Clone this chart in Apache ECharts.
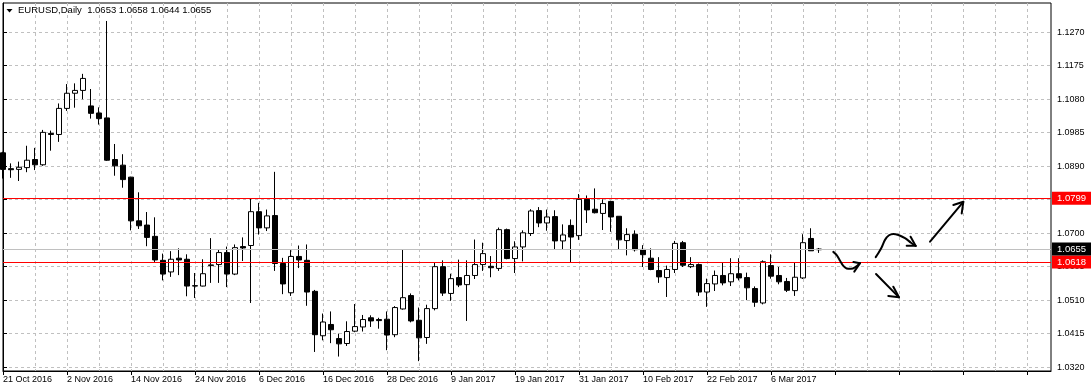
<!DOCTYPE html>
<html><head><meta charset="utf-8">
<script src="https://cdn.jsdelivr.net/npm/echarts@6/dist/echarts.min.js"></script>
<style>html,body{margin:0;padding:0;background:#fff}#c{width:1091px;height:392px}</style>
</head><body><div id="c"></div>
<script>
const symbol = 'EURUSD';
const timeframe = 'Daily';
const dates = [
'21 Oct 2016','24 Oct 2016','25 Oct 2016','26 Oct 2016','27 Oct 2016','28 Oct 2016','31 Oct 2016','1 Nov 2016','2 Nov 2016','3 Nov 2016',
'4 Nov 2016','7 Nov 2016','8 Nov 2016','9 Nov 2016','10 Nov 2016','11 Nov 2016','14 Nov 2016','15 Nov 2016','16 Nov 2016','17 Nov 2016',
'18 Nov 2016','21 Nov 2016','22 Nov 2016','23 Nov 2016','24 Nov 2016','25 Nov 2016','28 Nov 2016','29 Nov 2016','30 Nov 2016','1 Dec 2016',
'2 Dec 2016','5 Dec 2016','6 Dec 2016','7 Dec 2016','8 Dec 2016','9 Dec 2016','12 Dec 2016','13 Dec 2016','14 Dec 2016','15 Dec 2016',
'16 Dec 2016','19 Dec 2016','20 Dec 2016','21 Dec 2016','22 Dec 2016','23 Dec 2016','26 Dec 2016','27 Dec 2016','28 Dec 2016','29 Dec 2016',
'30 Dec 2016','2 Jan 2017','3 Jan 2017','4 Jan 2017','5 Jan 2017','6 Jan 2017','9 Jan 2017','10 Jan 2017','11 Jan 2017','12 Jan 2017',
'13 Jan 2017','16 Jan 2017','17 Jan 2017','18 Jan 2017','19 Jan 2017','20 Jan 2017','23 Jan 2017','24 Jan 2017','25 Jan 2017','26 Jan 2017',
'27 Jan 2017','30 Jan 2017','31 Jan 2017','1 Feb 2017','2 Feb 2017','3 Feb 2017','6 Feb 2017','7 Feb 2017','8 Feb 2017','9 Feb 2017',
'10 Feb 2017','13 Feb 2017','14 Feb 2017','15 Feb 2017','16 Feb 2017','17 Feb 2017','20 Feb 2017','21 Feb 2017','22 Feb 2017','23 Feb 2017',
'24 Feb 2017','27 Feb 2017','28 Feb 2017','1 Mar 2017','2 Mar 2017','3 Mar 2017','6 Mar 2017','7 Mar 2017','8 Mar 2017','9 Mar 2017',
'10 Mar 2017','13 Mar 2017','14 Mar 2017'];
const opens = [
1.0928,1.0883,1.0881,1.0886,1.0909,1.0894,1.0983,1.0980,1.1054,1.1097,
1.1105,1.1061,1.1041,1.1027,1.0909,1.0893,1.0859,1.0735,1.0723,1.0691,
1.0623,1.0590,1.0629,1.0626,1.0551,1.0550,1.0608,1.0611,1.0645,1.0584,
1.0662,1.0665,1.0761,1.0715,1.0750,1.0614,1.0531,1.0634,1.0623,1.0535,
1.0409,1.0441,1.0401,1.0387,1.0422,1.0434,1.0460,1.0455,1.0456,1.0412,
1.0485,1.0523,1.0453,1.0404,1.0486,1.0605,1.0529,1.0574,1.0554,1.0580,
1.0611,1.0606,1.0600,1.0710,1.0628,1.0661,1.0699,1.0764,1.0729,1.0747,
1.0678,1.0722,1.0693,1.0796,1.0768,1.0756,1.0790,1.0748,1.0679,1.0697,
1.0654,1.0629,1.0594,1.0574,1.0597,1.0673,1.0605,1.0611,1.0533,1.0556,
1.0580,1.0562,1.0585,1.0574,1.0543,1.0502,1.0608,1.0580,1.0563,1.0537,
1.0573,1.0685,1.0653];
const highs = [
1.0931,1.0898,1.0903,1.0948,1.0942,1.0993,1.0991,1.1068,1.1123,1.1125,
1.1152,1.1109,1.1057,1.1302,1.0953,1.0924,1.0860,1.0816,1.0760,1.0745,
1.0642,1.0649,1.0657,1.0640,1.0587,1.0626,1.0686,1.0653,1.0662,1.0668,
1.0688,1.0797,1.0786,1.0767,1.0874,1.0630,1.0652,1.0665,1.0668,1.0539,
1.0472,1.0478,1.0415,1.0450,1.0499,1.0468,1.0467,1.0460,1.0478,1.0493,
1.0654,1.0529,1.0489,1.0497,1.0617,1.0623,1.0585,1.0625,1.0623,1.0682,
1.0673,1.0635,1.0716,1.0713,1.0677,1.0708,1.0768,1.0774,1.0767,1.0765,
1.0725,1.0739,1.0811,1.0807,1.0827,1.0796,1.0792,1.0748,1.0714,1.0708,
1.0666,1.0657,1.0632,1.0608,1.0678,1.0678,1.0632,1.0614,1.0571,1.0594,
1.0617,1.0629,1.0629,1.0588,1.0549,1.0623,1.0640,1.0604,1.0573,1.0616,
1.0697,1.0714,1.0658];
const lows = [
1.0855,1.0857,1.0848,1.0873,1.0879,1.0891,1.0934,1.0959,1.1047,1.1056,
1.1080,1.1025,1.1008,1.0905,1.0863,1.0829,1.0708,1.0712,1.0663,1.0618,
1.0566,1.0576,1.0581,1.0521,1.0516,1.0549,1.0559,1.0559,1.0547,1.0581,
1.0621,1.0502,1.0696,1.0706,1.0593,1.0527,1.0522,1.0601,1.0494,1.0363,
1.0396,1.0388,1.0350,1.0380,1.0419,1.0421,1.0434,1.0429,1.0368,1.0405,
1.0483,1.0447,1.0337,1.0386,1.0481,1.0522,1.0508,1.0547,1.0451,1.0570,
1.0593,1.0575,1.0593,1.0626,1.0587,1.0620,1.0692,1.0717,1.0707,1.0655,
1.0655,1.0617,1.0681,1.0729,1.0756,1.0709,1.0704,1.0653,1.0637,1.0648,
1.0604,1.0595,1.0559,1.0519,1.0587,1.0604,1.0601,1.0522,1.0491,1.0536,
1.0552,1.0550,1.0566,1.0510,1.0491,1.0498,1.0571,1.0555,1.0533,1.0522,
1.0570,1.0650,1.0644];
const closes = [
1.0881,1.0880,1.0887,1.0907,1.0894,1.0986,1.0980,1.1054,1.1097,1.1105,
1.1139,1.1040,1.1025,1.0907,1.0891,1.0852,1.0735,1.0721,1.0688,1.0624,
1.0584,1.0626,1.0624,1.0550,1.0550,1.0585,1.0610,1.0645,1.0584,1.0659,
1.0658,1.0761,1.0715,1.0749,1.0614,1.0556,1.0634,1.0624,1.0533,1.0412,
1.0448,1.0426,1.0386,1.0421,1.0435,1.0455,1.0451,1.0452,1.0411,1.0489,
1.0517,1.0451,1.0403,1.0486,1.0605,1.0530,1.0571,1.0553,1.0580,1.0611,
1.0642,1.0602,1.0710,1.0628,1.0661,1.0701,1.0763,1.0729,1.0746,1.0678,
1.0695,1.0689,1.0796,1.0766,1.0758,1.0784,1.0746,1.0681,1.0696,1.0653,
1.0639,1.0597,1.0576,1.0597,1.0671,1.0609,1.0611,1.0533,1.0557,1.0580,
1.0559,1.0585,1.0573,1.0545,1.0504,1.0619,1.0578,1.0562,1.0538,1.0575,
1.0673,1.0650,1.0655];
const emptySlots = 29;                 // right-hand shift area (no bars)
const priceTicks = ['1.0320','1.0415','1.0510','1.0605','1.0700','1.0795','1.0890','1.0985','1.1080','1.1175','1.1270'];
const priceMin = 1.0309, priceMax = 1.1353;
const levels = [1.0799, 1.0618];
const bid = 1.0655;
// hand-drawn arrows, in [bar index, price]
const arrowLines = [
  [[103.79,1.0647],[104.21,1.0638],[104.63,1.0622],[105.04,1.0607],[105.46,1.0600],[106.0,1.0599],[106.5,1.0603],[107.13,1.0615]],
  [[109.09,1.0632],[109.41,1.0643],[109.84,1.0660],[110.25,1.0681],[110.75,1.0694],[111.29,1.0698],[111.92,1.0695],[112.75,1.0686],[113.5,1.0673],[114.09,1.0664]],
  [[109.13,1.0584],[112.0,1.0518]],
  [[115.88,1.0676],[120.04,1.0789]]
];
const arrowHeads = [
  [[106.3,1.0618],[107.13,1.0615],[106.41,1.0591]],
  [[113.45,1.0690],[114.09,1.0664],[112.96,1.0664]],
  [[111.29,1.0548],[112.0,1.0518],[110.66,1.0522]],
  [[118.79,1.0780],[120.04,1.0789],[119.84,1.0756]]
];

const FONT = 'Liberation Sans';
const cats = dates.concat(Array.from({length: emptySlots}, () => ''));
const tickVals = priceTicks.map(Number);
const candleData = dates.map((d, i) => [opens[i], closes[i], lows[i], highs[i]]);
const n = dates.length - 1;
const titleText = symbol + ',' + timeframe + '  ' + [opens[n], highs[n], lows[n], closes[n]].map(v => v.toFixed(4)).join(' ');

const chart = echarts.init(document.getElementById('c'), null, {renderer: 'canvas'});
const lineSeries = [];
arrowLines.forEach(pts => lineSeries.push({
  type: 'line', xAxisIndex: 1, yAxisIndex: 0, data: pts, smooth: 0.3, symbol: 'none', silent: true,
  lineStyle: {color: '#000', width: 2, cap: 'round'}, z: 5, animation: false
}));
arrowHeads.forEach(pts => lineSeries.push({
  type: 'line', xAxisIndex: 1, yAxisIndex: 0, data: pts, smooth: false, symbol: 'none', silent: true,
  lineStyle: {color: '#000', width: 2, cap: 'round', join: 'round'}, z: 5, animation: false
}));

const lvlLabel = (bg) => ({
  show: true, position: 'end', distance: 1, formatter: p => Number(p.value).toFixed(4),
  color: '#fff', backgroundColor: bg, fontFamily: FONT, fontSize: 9.5, padding: [2, 5, 1, 5],
  borderRadius: 0
});

chart.setOption({
  animation: false,
  backgroundColor: '#fff',
  grid: {left: 3, right: 40, top: 3, bottom: 21, show: true, borderColor: '#000', borderWidth: 1, backgroundColor: '#fff'},
  graphic: [
    {type: 'polygon', shape: {points: [[6.5, 9], [12.5, 9], [9.5, 12.5]]}, style: {fill: '#000'}, z: 10},
    {type: 'text', left: 18, top: 5.5, z: 10, style: {text: titleText, fill: '#000', font: '9.5px "' + FONT + '"'}}
  ],
  xAxis: [{
    type: 'category', data: cats, boundaryGap: false,
    axisLine: {show: true, lineStyle: {color: '#000', width: 1}},
    axisTick: {show: true, interval: 7, length: 4, lineStyle: {color: '#000'}},
    axisLabel: {interval: 7, align: 'left', margin: 4, color: '#000', fontFamily: FONT, fontSize: 9, padding: [0, 0, 0, 0]},
    splitLine: {show: true, interval: 3, lineStyle: {color: '#c0c0c0', type: [3, 3], width: 1}}
  }, {
    type: 'value', min: 0, max: cats.length - 1, show: false, splitLine: {show: false}
  }],
  yAxis: [{
    type: 'value', position: 'right', min: priceMin, max: priceMax, scale: true,
    axisLine: {show: true, lineStyle: {color: '#000'}},
    axisTick: {show: true, customValues: tickVals, length: 4, lineStyle: {color: '#000'}},
    axisLabel: {customValues: tickVals, formatter: v => Number(v).toFixed(4), margin: 6, color: '#000', fontFamily: FONT, fontSize: 9},
    splitLine: {show: true, lineStyle: {color: '#c0c0c0', type: [3, 3], width: 1}}
  }],
  series: [{
    type: 'candlestick', data: candleData, barWidth: 5, clip: true,
    itemStyle: {color: '#fff', color0: '#000', borderColor: '#000', borderColor0: '#000', borderWidth: 1},
    markLine: {
      silent: true, symbol: 'none', animation: false, precision: 4,
      data: [
        {yAxis: levels[0], lineStyle: {color: '#ff0000', width: 1, type: 'solid'}, label: lvlLabel('#ff0000')},
        {yAxis: levels[1], lineStyle: {color: '#ff0000', width: 1, type: 'solid'}, label: lvlLabel('#ff0000')},
        {yAxis: bid, lineStyle: {color: '#c0c0c0', width: 1, type: 'solid'}, label: lvlLabel('#000000')}
      ]
    }
  }].concat(lineSeries)
});
</script></body></html>
